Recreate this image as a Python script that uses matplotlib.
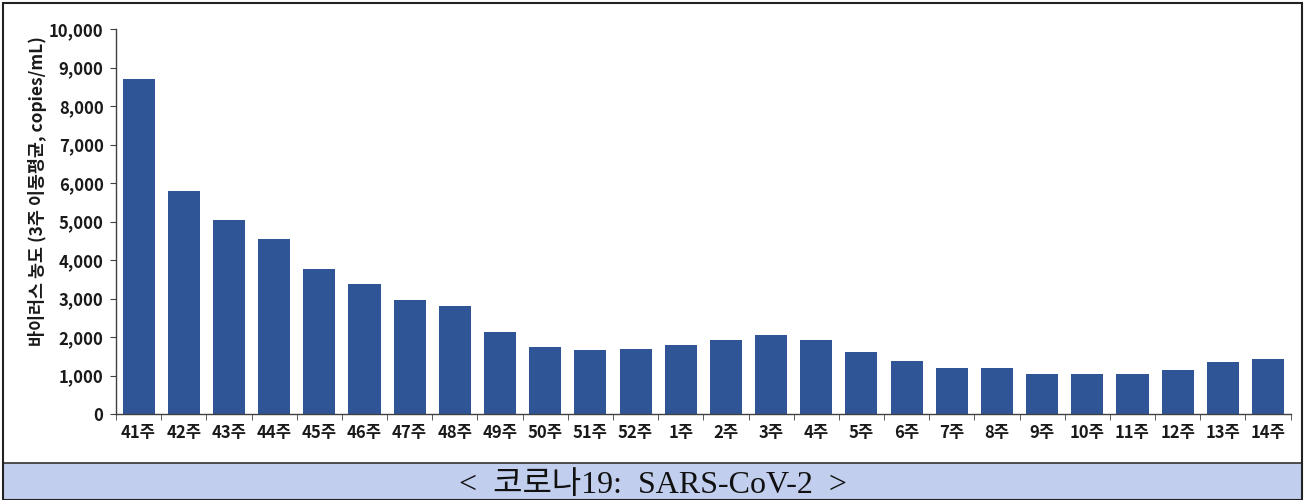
import numpy as np
import matplotlib
matplotlib.use('Agg')
import matplotlib.pyplot as plt
from matplotlib.patches import Rectangle
from matplotlib.ticker import FuncFormatter, FixedLocator

plt.rcParams['font.family'] = ['Noto Sans CJK KR', 'DejaVu Sans']

weeks = ['41주', '42주', '43주', '44주', '45주', '46주', '47주', '48주', '49주', '50주',
         '51주', '52주', '1주', '2주', '3주', '4주', '5주', '6주', '7주', '8주',
         '9주', '10주', '11주', '12주', '13주', '14주']
values = [8700, 5800, 5030, 4550, 3770, 3370, 2950, 2800, 2140, 1740,
          1660, 1680, 1780, 1920, 2060, 1920, 1610, 1380, 1190, 1190,
          1050, 1050, 1030, 1140, 1360, 1430]
y_ticks = [0, 1000, 2000, 3000, 4000, 5000, 6000, 7000, 8000, 9000, 10000]

BAR_COLOR = '#2F5597'
AXIS_COLOR = '#404040'

fig = plt.figure(figsize=(13.05, 5.0), dpi=100)
ax = fig.add_axes([0.0889, 0.172, 0.9001, 0.770])

x = np.arange(len(weeks))
ax.bar(x, values, width=0.71, color=BAR_COLOR, zorder=2)

ax.set_xlim(-0.5, len(weeks) - 0.5)
ax.set_ylim(0, 10000)
ax.set_yticks(y_ticks)
ax.yaxis.set_major_formatter(FuncFormatter(lambda v, p: f'{int(v):,}'))

ax.set_xticks(x)
ax.set_xticklabels(weeks)
ax.xaxis.set_minor_locator(FixedLocator(np.arange(-0.5, len(weeks), 1.0)))
ax.tick_params(axis='x', which='major', length=0, pad=7, labelsize=12)
ax.tick_params(axis='x', which='minor', length=4, direction='out', color=AXIS_COLOR)
ax.tick_params(axis='y', length=4, direction='out', color=AXIS_COLOR, labelsize=12, pad=5)
for lbl in ax.get_xticklabels() + ax.get_yticklabels():
    lbl.set_fontweight('bold')
    lbl.set_color('#1a1a1a')

for s in ['top', 'right']:
    ax.spines[s].set_visible(False)
for s in ['left', 'bottom']:
    ax.spines[s].set_color(AXIS_COLOR)
    ax.spines[s].set_linewidth(1.0)

ax.set_ylabel('바이러스 농도 (3주 이동평균, copies/mL)', fontsize=12.5, fontweight='bold',
              color='#1a1a1a')
ax.yaxis.set_label_coords(-0.059, 0.58)

# caption band and outer frame
fig.patches.append(Rectangle((0.0025, 0.0), 0.995, 0.074, transform=fig.transFigure,
                             facecolor='#C2CEEE', edgecolor='#333333', linewidth=1.2, zorder=0))
fig.patches.append(Rectangle((0.0025, 0.0), 0.995, 0.994, transform=fig.transFigure,
                             facecolor='none', edgecolor='#222222', linewidth=1.5, zorder=1))
fig.text(0.5, 0.030, '<  코로나19:  SARS-CoV-2  >', ha='center', va='center', fontsize=23,
         family=['Liberation Serif', 'Noto Sans CJK KR'], color='#111111')

fig.savefig('out.png', dpi=100, facecolor='white')
